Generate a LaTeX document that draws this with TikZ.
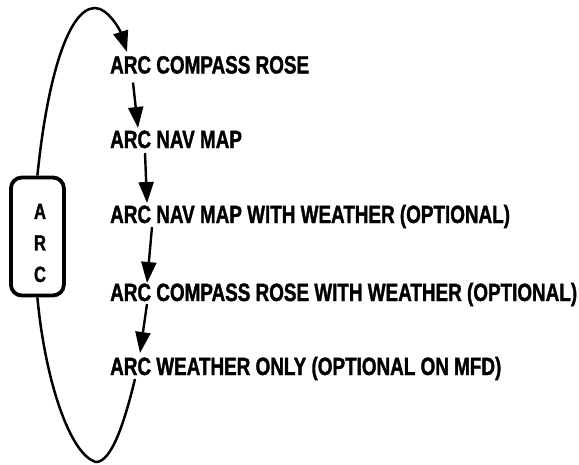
\documentclass[tikz,border=0pt]{standalone}
\usepackage{fontspec}
\newfontfamily\cond[FakeStretch=0.755, BoldFeatures={FakeBold=1.3}]{Liberation Sans}
\usetikzlibrary{arrows.meta}
\begin{document}
\begin{tikzpicture}[x=1pt,y=-1pt,
  lbl/.style={font=\cond\bfseries\fontsize{25}{29}\selectfont, anchor=base west, inner sep=0pt},
  arr/.style={line width=2.4pt, -{Triangle[length=21pt,width=15pt]}},
  loop/.style={line width=2.5pt},
  box/.style={draw, line width=3.8pt, rounded corners=11pt, minimum width=53pt, minimum height=118pt, inner sep=0pt}]
\useasboundingbox (0,0) rectangle (579,464);
\node[box] (arcbox) at (37.4,236.5) {};
\node[font=\cond\bfseries\fontsize{22}{31.5}\selectfont, align=center, inner sep=0pt] (arctxt) at (40,243) {A\\R\\C};
\node[lbl] (t1) at (110,73.5) {ARC COMPASS ROSE};
\node[lbl] (t2) at (110,148) {ARC NAV MAP};
\node[lbl] (t3) at (110,223) {ARC NAV MAP WITH WEATHER (OPTIONAL)};
\node[lbl] (t4) at (110,301) {ARC COMPASS ROSE WITH WEATHER (OPTIONAL)};
\node[lbl] (t5) at (110,375) {ARC WEATHER ONLY (OPTIONAL ON MFD)};
\draw[arr] ([shift={(23,9)}]t1.base west) -- ([shift={(28,-20)}]t2.base west);
\draw[arr] ([shift={(35,5)}]t2.base west) -- ([shift={(37,-20)}]t3.base west);
\draw[arr] ([shift={(42,4)}]t3.base west) -- ([shift={(37,-18)}]t4.base west);
\draw[arr] ([shift={(37,3)}]t4.base west) -- ([shift={(30,-22)}]t5.base west);
\draw[loop,-{Triangle[length=21pt,width=15pt]}] (arcbox.north) .. controls (47,80) and (68,8) .. (95,8)
  .. controls (108,8) and (120,30) .. ([shift={(17,-21.5)}]t1.base west);
\draw[loop] ([shift={(25,4)}]t5.base west) .. controls (125,420) and (112,462) .. (96,462)
  .. controls (70,455) and (45,380) .. (arcbox.south);
\end{tikzpicture}
\end{document}
